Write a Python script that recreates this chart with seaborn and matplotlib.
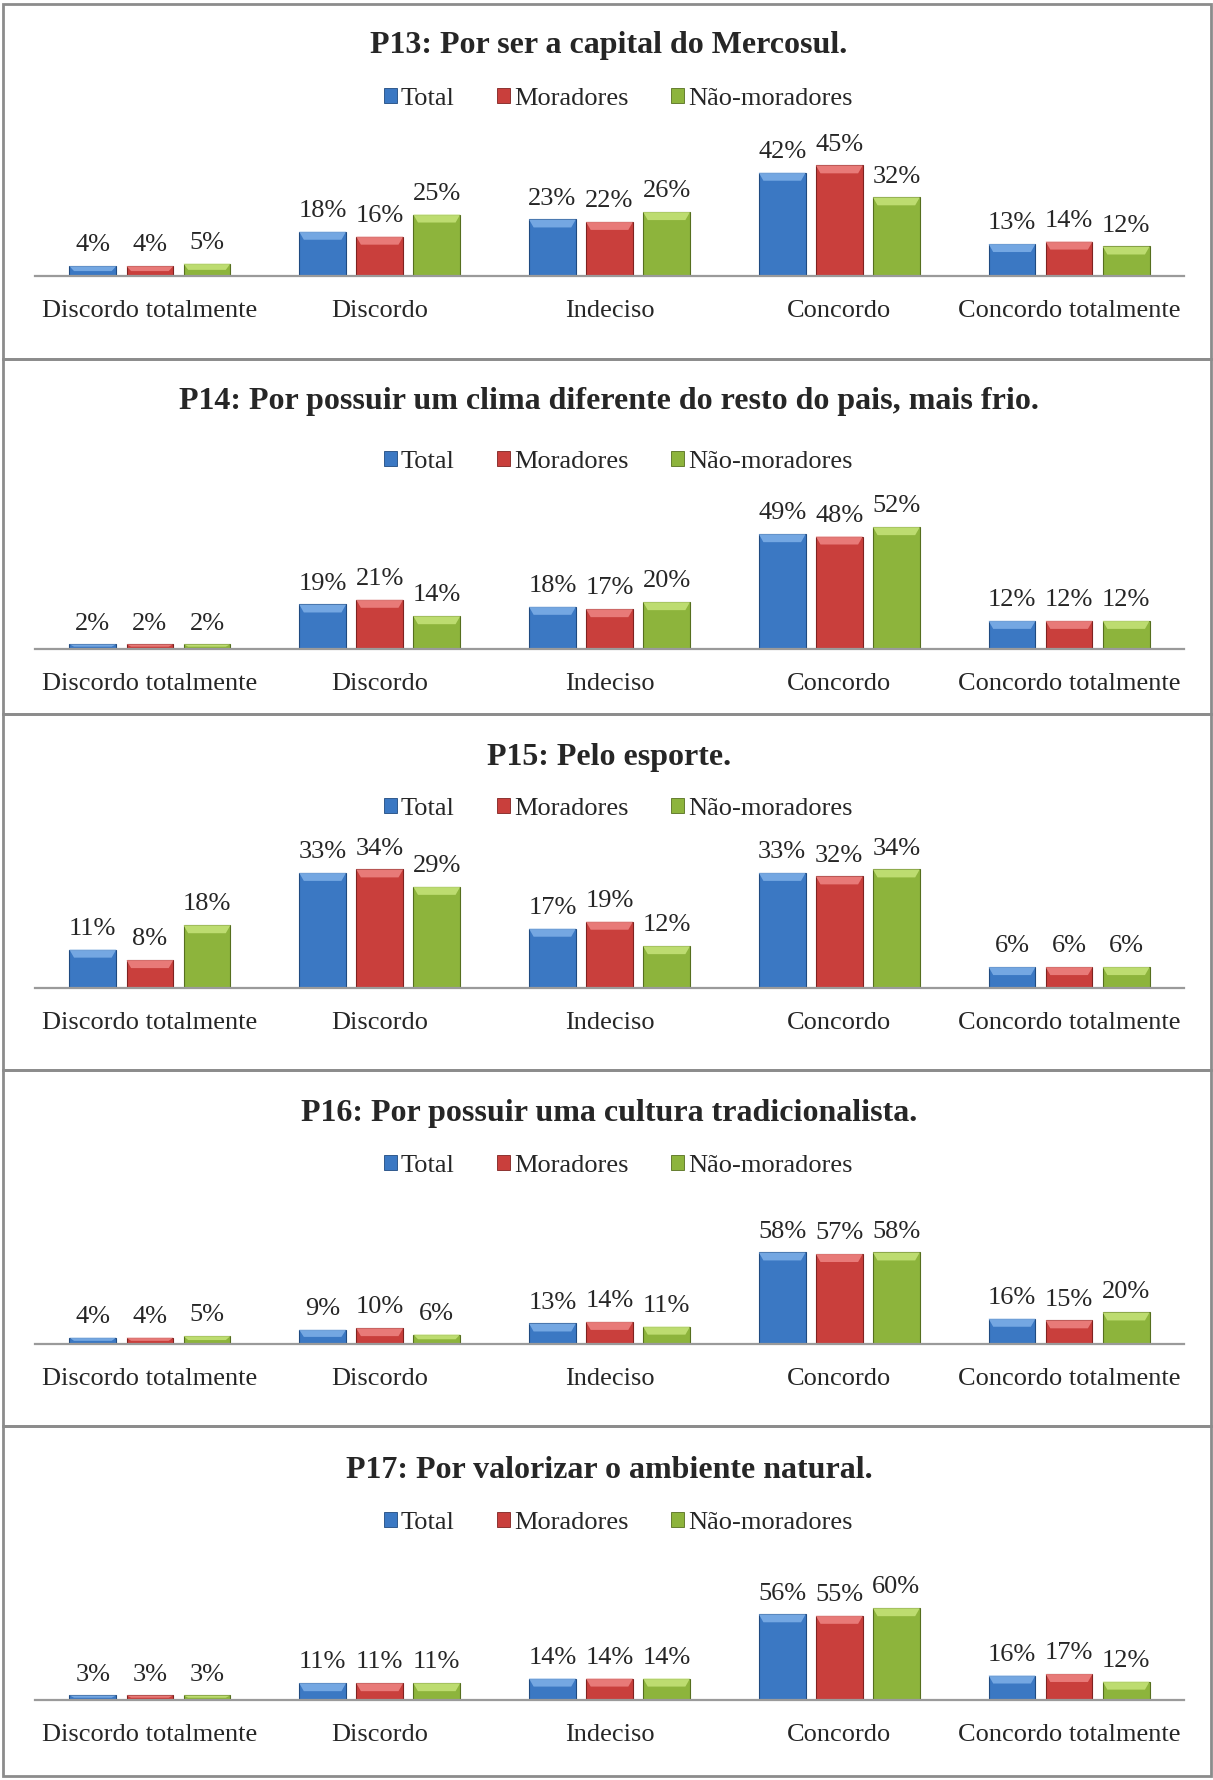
import matplotlib
matplotlib.use("Agg")
import matplotlib.pyplot as plt
import matplotlib.patches as mpatches
import seaborn as sns
import pandas as pd

categorias = ['Discordo totalmente', 'Discordo', 'Indeciso', 'Concordo', 'Concordo totalmente']
grupos = ['Total', 'Moradores', 'Não-moradores']

titulos = [
    'P13: Por ser a capital do Mercosul.',
    'P14: Por possuir um clima diferente do resto do pais, mais frio.',
    'P15: Pelo esporte.',
    'P16: Por possuir uma cultura tradicionalista.',
    'P17: Por valorizar o ambiente natural.',
]

p13_total = [4, 18, 23, 42, 13]
p13_moradores = [4, 16, 22, 45, 14]
p13_nao = [5, 25, 26, 32, 12]

p14_total = [2, 19, 18, 49, 12]
p14_moradores = [2, 21, 17, 48, 12]
p14_nao = [2, 14, 20, 52, 12]

p15_total = [11, 33, 17, 33, 6]
p15_moradores = [8, 34, 19, 32, 6]
p15_nao = [18, 29, 12, 34, 6]

p16_total = [4, 9, 13, 58, 16]
p16_moradores = [4, 10, 14, 57, 15]
p16_nao = [5, 6, 11, 58, 20]

p17_total = [3, 11, 14, 56, 16]
p17_moradores = [3, 11, 14, 55, 17]
p17_nao = [3, 11, 14, 60, 12]

series = [
    (p13_total, p13_moradores, p13_nao),
    (p14_total, p14_moradores, p14_nao),
    (p15_total, p15_moradores, p15_nao),
    (p16_total, p16_moradores, p16_nao),
    (p17_total, p17_moradores, p17_nao),
]

cores = ['#3B78C3', '#C93F3C', '#8DB43C']
bordas = ['#1F4A80', '#7F2220', '#566F1F']
topo = ['#7FB0E8', '#EE8583', '#C6E47A']

# layout in pixels (figure 1213 x 1780)
W, H = 1213, 1780
paineis_topo = [3.5, 358.5, 713.5, 1070, 1426]
painel_fim = 1776
titulo_y = [46, 401, 758, 1113, 1470]
legenda_y = [99, 462, 809, 1166, 1523]
base_y = [276, 649, 988, 1344, 1700]
# y-axis upper limit (percent) per panel, mimicking excel autoscale
ymax = [61, 64, 43, 95, 98]
eixo_alt = 150
eixo_x0, eixo_x1 = 35, 1184

sns.set_theme(style="white")
plt.rcParams['font.family'] = ['Liberation Serif', 'DejaVu Serif']

fig = plt.figure(figsize=(W / 100, H / 100), dpi=100)

# panel borders
for i, t in enumerate(paineis_topo):
    fim = paineis_topo[i + 1] if i + 1 < len(paineis_topo) else painel_fim
    fig.patches.append(mpatches.Rectangle(
        (3 / W, 1 - fim / H), (1211 - 3) / W, (fim - t) / H,
        transform=fig.transFigure, fill=False, edgecolor='#8C8C8C', linewidth=2))

for i, (tot, mor, nao) in enumerate(series):
    df = pd.DataFrame({
        'categoria': categorias * 3,
        'grupo': [grupos[0]] * 5 + [grupos[1]] * 5 + [grupos[2]] * 5,
        'valor': tot + mor + nao,
    })
    ax = fig.add_axes([eixo_x0 / W, 1 - base_y[i] / H,
                       (eixo_x1 - eixo_x0) / W, eixo_alt / H])
    sns.barplot(data=df, x='categoria', y='valor', hue='grupo',
                order=categorias, hue_order=grupos, palette=cores, saturation=1,
                width=0.745, gap=0.18, ax=ax, legend=False,
                edgecolor='none', linewidth=0)
    ax.set_xlim(-0.5, 4.5)
    ax.set_ylim(0, ymax[i])
    ax.set_xlabel('')
    ax.set_ylabel('')
    ax.set_yticks([])
    for s in ['top', 'right', 'left']:
        ax.spines[s].set_visible(False)
    ax.spines['bottom'].set_color('#9A9A9A')
    ax.spines['bottom'].set_linewidth(1.6)
    ax.tick_params(axis='x', length=0, pad=17, labelsize=19)
    ax.patch.set_alpha(0)

    px = ymax[i] / eixo_alt  # data units per pixel
    for k, cont in enumerate(ax.containers):
        for bar in cont:
            x0, w, h = bar.get_x(), bar.get_width(), bar.get_height()
            bar.set_edgecolor(bordas[k])
            bar.set_linewidth(0.8)
            faixa = min(8 * px, h * 0.5)
            ins = min(w * 0.12, 0.02)
            ax.add_patch(mpatches.Polygon(
                [(x0, h), (x0 + w, h), (x0 + w - ins, h - faixa), (x0 + ins, h - faixa)],
                closed=True, facecolor=topo[k], edgecolor='none', alpha=0.85))
        ax.bar_label(cont, labels=[f'{v:.0f}%' for v in cont.datavalues],
                     padding=7, fontsize=19)

    fig.text(609 / W, 1 - titulo_y[i] / H, titulos[i], ha='center', va='center',
             fontsize=23, fontweight='bold')

    alcas = [mpatches.Patch(facecolor=cores[k], edgecolor=bordas[k], linewidth=0.6)
             for k in range(3)]
    fig.legend(alcas, grupos, loc='center', bbox_to_anchor=(618 / W, 1 - legenda_y[i] / H),
               ncol=3, frameon=False, fontsize=19, handlelength=0.5, handleheight=0.5,
               handletextpad=0.15, columnspacing=1.6)

fig.savefig('out.png', dpi=100)
